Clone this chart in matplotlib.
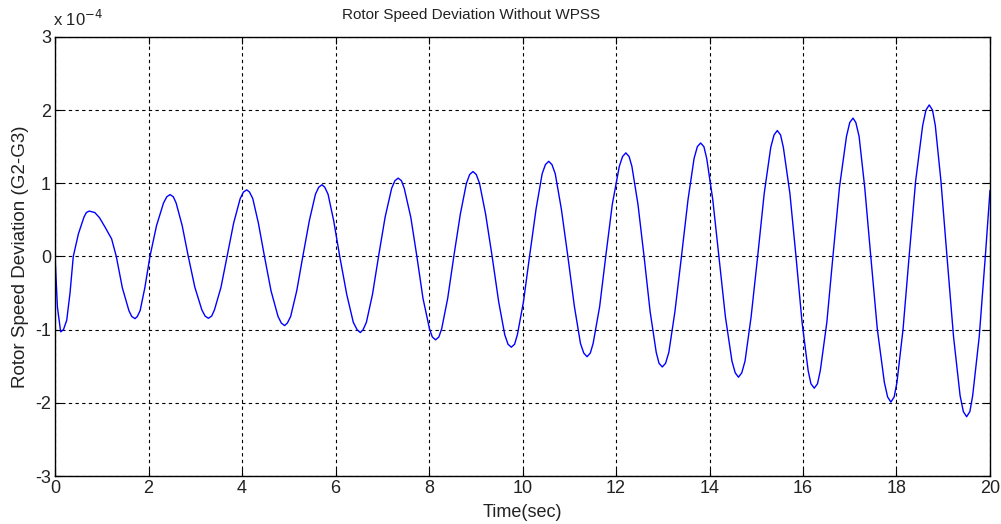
import matplotlib.pyplot as plt

# time (s) and rotor speed deviation (x 1e-4)
time_sec = [
    0.00, 0.05, 0.12, 0.18, 0.25, 0.32, 0.39, 0.50, 0.62, 0.73, 0.85, 0.95, 1.07, 1.21, 1.31,
    1.44, 1.58, 1.71, 1.82, 1.92, 2.03, 2.17, 2.32, 2.46, 2.59, 2.72, 2.85,
    2.99, 3.14, 3.28, 3.41, 3.55, 3.68, 3.82, 3.96, 4.10, 4.23, 4.35, 4.48,
    4.62, 4.77, 4.91, 5.04, 5.17, 5.30, 5.44, 5.57, 5.71, 5.84, 5.96, 6.09,
    6.24, 6.38, 6.53, 6.66, 6.79, 6.92, 7.06, 7.20, 7.34, 7.47, 7.61, 7.74,
    7.87, 8.01, 8.14, 8.27, 8.40, 8.53, 8.67, 8.80, 8.94, 9.08, 9.21, 9.35,
    9.49, 9.62, 9.76, 9.89, 10.02, 10.15, 10.29, 10.42, 10.56, 10.70, 10.83, 10.97,
    11.11, 11.24, 11.38, 11.51, 11.65, 11.78, 11.92, 12.07, 12.21, 12.34, 12.47, 12.60,
    12.73, 12.86, 12.99, 13.13, 13.26, 13.40, 13.54, 13.67, 13.81, 13.94, 14.07, 14.20,
    14.34, 14.48, 14.62, 14.76, 14.89, 15.03, 15.17, 15.31, 15.45, 15.58, 15.72, 15.85,
    15.98, 16.11, 16.24, 16.37, 16.51, 16.64, 16.78, 16.93, 17.07, 17.20, 17.32, 17.45,
    17.59, 17.74, 17.88, 18.01, 18.14, 18.27, 18.41, 18.56, 18.70, 18.83, 18.95, 19.08,
    19.22, 19.36, 19.50, 19.63, 19.77, 19.90, 20.00,
]
speed_dev = [
    0.00, -0.69, -1.03, -1.00, -0.87, -0.50, 0.00, 0.31, 0.54, 0.62, 0.60, 0.53, 0.40, 0.24, 0.00,
    -0.43, -0.74, -0.85, -0.74, -0.43, 0.00, 0.42, 0.73, 0.845, 0.73, 0.42, 0.00,
    -0.42, -0.73, -0.845, -0.73, -0.42, 0.00, 0.455, 0.79, 0.91, 0.79, 0.455, 0.00,
    -0.47, -0.82, -0.945, -0.82, -0.47, 0.00, 0.49, 0.85, 0.98, 0.85, 0.49, 0.00,
    -0.52, -0.90, -1.04, -0.90, -0.52, 0.00, 0.535, 0.93, 1.07, 0.93, 0.535, 0.00,
    -0.57, -0.99, -1.14, -0.99, -0.57, 0.00, 0.58, 1.00, 1.16, 1.00, 0.58, 0.00,
    -0.62, -1.07, -1.24, -1.07, -0.62, 0.00, 0.65, 1.13, 1.30, 1.13, 0.65, 0.00,
    -0.685, -1.19, -1.37, -1.19, -0.685, 0.00, 0.71, 1.23, 1.415, 1.23, 0.71, 0.00,
    -0.755, -1.31, -1.51, -1.31, -0.755, 0.00, 0.775, 1.34, 1.55, 1.34, 0.775, 0.00,
    -0.825, -1.43, -1.65, -1.43, -0.825, 0.00, 0.86, 1.49, 1.72, 1.49, 0.86, 0.00,
    -0.90, -1.56, -1.80, -1.56, -0.90, 0.00, 0.945, 1.64, 1.89, 1.64, 0.945, 0.00,
    -0.995, -1.72, -1.99, -1.72, -0.995, 0.00, 1.035, 1.79, 2.07, 1.79, 1.035, 0.00,
    -1.095, -1.90, -2.19, -1.90, -1.095, 0.00, 0.90,
]
# extra points read just beside each crest/trough so the tops stay round
crest_t = [
    0.67, 1.64, 1.76, 2.39, 2.53, 3.21, 3.35, 4.03, 4.16, 4.84, 4.97, 5.64, 5.77,
    6.46, 6.59, 7.27, 7.41, 8.07, 8.21, 8.87, 9.01, 9.69, 9.83, 10.49, 10.63,
    11.31, 11.45, 12.14, 12.28, 12.92, 13.06, 13.74, 13.88, 14.55, 14.69,
    15.38, 15.52, 16.17, 16.31, 17.00, 17.13, 17.81, 17.95, 18.63, 18.77, 19.43, 19.57,
]
crest_v = [
    0.60, -0.82, -0.82, 0.815, 0.815, -0.815, -0.815, 0.88, 0.88, -0.91, -0.91, 0.945, 0.945,
    -1.00, -1.00, 1.035, 1.035, -1.10, -1.10, 1.12, 1.12, -1.20, -1.20, 1.255, 1.255,
    -1.32, -1.32, 1.365, 1.365, -1.46, -1.46, 1.50, 1.50, -1.59, -1.59,
    1.66, 1.66, -1.74, -1.74, 1.83, 1.83, -1.92, -1.92, 2.00, 2.00, -2.12, -2.12,
]
x_ticks = [0, 2, 4, 6, 8, 10, 12, 14, 16, 18, 20]
y_ticks = [-3, -2, -1, 0, 1, 2, 3]

plt.rcParams['font.family'] = ['Liberation Sans', 'DejaVu Sans']
plt.rcParams['axes.unicode_minus'] = False

pts = sorted(zip(time_sec + crest_t, speed_dev + crest_v))
t_all = [p[0] for p in pts]
v_all = [p[1] for p in pts]

fig = plt.figure(figsize=(10.01, 5.24), dpi=100)
ax = fig.add_axes([0.055, 0.0916, 0.934, 0.838])

ax.plot(t_all, v_all, color='#0000ff', linewidth=1.0)

ax.set_xlim(0, 20)
ax.set_ylim(-3, 3)
ax.set_xticks(x_ticks)
ax.set_yticks(y_ticks)
ax.tick_params(direction='in', top=True, right=True, labelsize=13, length=5, pad=3,
               labelcolor='#222222')
ax.grid(True, color='black', linestyle=(0, (3, 3)), linewidth=0.8)
for s in ax.spines.values():
    s.set_linewidth(1.0)

ax.set_xlabel('Time(sec)', fontsize=13, labelpad=5, color='#222222')
ax.set_ylabel('Rotor Speed Deviation (G2-G3)', fontsize=13.5, labelpad=4, color='#222222')
fig.text(0.471, 0.972, 'Rotor Speed Deviation Without WPSS', ha='center', va='center', fontsize=11,
         color='#222222')
fig.text(0.053, 0.945, r'x 10$^{-4}$', ha='left', va='bottom', fontsize=12, color='#222222')

plt.savefig('out.png', dpi=100)
